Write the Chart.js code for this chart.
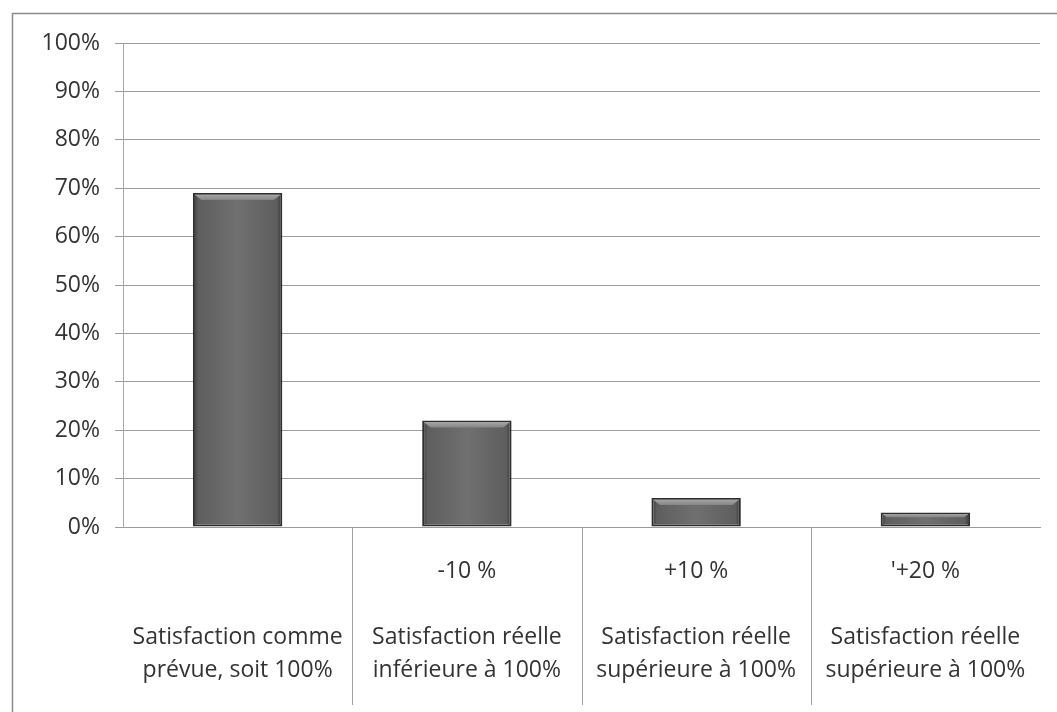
<!DOCTYPE html>
<html>
<head>
<meta charset="utf-8">
<script src="https://cdn.jsdelivr.net/npm/chart.js@4/dist/chart.umd.min.js"></script>
<style>
  html, body { margin: 0; padding: 0; background: #fff; }
  #wrap { width: 1057px; height: 712px; position: relative; }
</style>
</head>
<body>
<div id="wrap"><canvas id="chart" width="1057" height="712"></canvas></div>
<script>
// Category labels (multi-line, as shown under each bar)
const categories = [
  ["", "", "Satisfaction comme", "prévue, soit 100%"],
  ["-10 %", "", "Satisfaction réelle", "inférieure à 100%"],
  ["+10 %", "", "Satisfaction réelle", "supérieure à 100%"],
  ["'+20 %", "", "Satisfaction réelle", "supérieure à 100%"]
];
// Share of respondents, in percent
const values = [69, 22, 6, 3];
// Y axis range and step, in percent
const yMin = 0;
const yMax = 100;
const yStep = 10;

const FONT = "'Open Sans', 'Liberation Sans', sans-serif";
const BAR_PCT = 0.39;

// Shaded bar fill: dark edges, lighter middle
function barFill(ctx) {
  const chart = ctx.chart;
  const xs = chart.scales && chart.scales.x;
  if (!chart.chartArea || !xs || ctx.dataIndex === undefined) return '#6a6a6a';
  const cx = xs.getPixelForValue(ctx.dataIndex);
  const cat = (xs.right - xs.left) / chart.data.labels.length;
  const w = cat * BAR_PCT;
  if (!isFinite(cx) || !isFinite(w) || w <= 0) return '#6a6a6a';
  const g = chart.ctx.createLinearGradient(cx - w / 2, 0, cx + w / 2, 0);
  g.addColorStop(0, '#3a3a3a');
  g.addColorStop(0.06, '#5e5e5e');
  g.addColorStop(0.5, '#707070');
  g.addColorStop(0.94, '#5e5e5e');
  g.addColorStop(1, '#333333');
  return g;
}

// Frame around the chart, category separators and bevel highlights on bars
const decorations = {
  id: 'decorations',
  beforeDraw(chart) {
    const c = chart.ctx;
    c.save();
    c.strokeStyle = '#8a8a8a';
    c.lineWidth = 1.5;
    c.beginPath();
    c.moveTo(12.5, 712);
    c.lineTo(12.5, 13.5);
    c.lineTo(1057, 13.5);
    c.stroke();
    c.restore();
  },
  afterDatasetsDraw(chart) {
    const c = chart.ctx;
    const meta = chart.getDatasetMeta(0);
    c.save();
    meta.data.forEach(bar => {
      const w = bar.width, h = bar.base - bar.y;
      if (!isFinite(w) || !isFinite(h) || h <= 0) return;
      const x0 = bar.x - w / 2, x1 = bar.x + w / 2, y0 = bar.y;
      const b = Math.min(7, h / 3);
      const g = c.createLinearGradient(0, y0, 0, y0 + b);
      g.addColorStop(0, '#b0b0b0');
      g.addColorStop(1, '#858585');
      c.fillStyle = g;
      c.beginPath();
      c.moveTo(x0 + 1.5, y0 + 1.5);
      c.lineTo(x1 - 1.5, y0 + 1.5);
      c.lineTo(x1 - 1.5 - b, y0 + b);
      c.lineTo(x0 + 1.5 + b, y0 + b);
      c.closePath();
      c.fill();
    });
    c.restore();
  },
  afterDraw(chart) {
    const c = chart.ctx;
    const xs = chart.scales.x;
    const area = chart.chartArea;
    const n = chart.data.labels.length;
    const step = (xs.right - xs.left) / n;
    c.save();
    c.strokeStyle = '#a0a0a0';
    c.lineWidth = 1;
    for (let i = 1; i < n; i++) {
      const x = Math.round(xs.getPixelForValue(i) - step / 2) + 0.5;
      c.beginPath();
      c.moveTo(x, area.bottom);
      c.lineTo(x, area.bottom + 178);
      c.stroke();
    }
    c.restore();
  }
};

new Chart(document.getElementById('chart'), {
  type: 'bar',
  data: {
    labels: categories,
    datasets: [{
      data: values,
      backgroundColor: barFill,
      borderColor: '#2e2e2e',
      borderWidth: 2,
      borderSkipped: false,
      categoryPercentage: 1,
      barPercentage: BAR_PCT
    }]
  },
  options: {
    responsive: false,
    animation: false,
    devicePixelRatio: 1,
    layout: { padding: { top: 43, right: 17, left: 0, bottom: 0 } },
    plugins: {
      legend: { display: false },
      tooltip: { enabled: false }
    },
    scales: {
      x: {
        offset: true,
        afterFit(s) { s.height = 185; },
        border: { display: true, color: '#9a9a9a', width: 1 },
        grid: { display: false, drawTicks: false },
        ticks: {
          padding: 28,
          maxRotation: 0,
          autoSkip: false,
          color: '#333',
          font: { family: FONT, size: 23, lineHeight: '33px' }
        }
      },
      y: {
        min: yMin,
        max: yMax,
        afterFit(s) { s.width = 123; },
        border: { display: true, color: '#a8a8a8', width: 1 },
        grid: { color: '#9c9c9c', lineWidth: 1, tickLength: 8 },
        ticks: {
          stepSize: yStep,
          padding: 15,
          color: '#333',
          font: { family: FONT, size: 23 },
          callback: v => v + '%'
        }
      }
    }
  },
  plugins: [decorations]
});
</script>
</body>
</html>
